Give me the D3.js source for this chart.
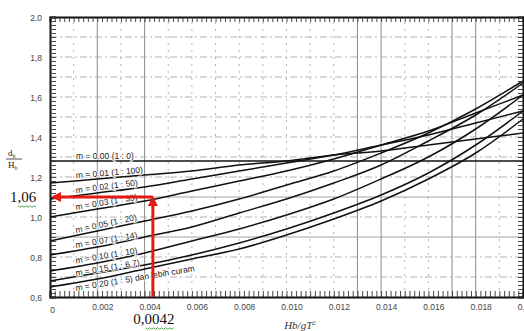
<!DOCTYPE html>
<html>
<head>
<meta charset="utf-8">
<script src="https://cdn.jsdelivr.net/npm/d3@7"></script>
<style>
  body { margin: 0; background: #fff; }
  svg { display: block; }
</style>
</head>
<body>
<div class="chart"></div>
<script>
// Hb/gT^2 sample points
var xs = [0, 0.002, 0.004, 0.006, 0.008, 0.010, 0.012, 0.014, 0.016, 0.018, 0.020];

// db/Hb, one list per beach slope
var m000 = [1.28, 1.28, 1.28, 1.28, 1.28, 1.28, 1.28, 1.28, 1.28, 1.28, 1.28];
var m001 = [1.17, 1.19, 1.21, 1.23, 1.26, 1.28, 1.31, 1.33, 1.36, 1.39, 1.42];
var m002 = [1.09, 1.12, 1.15, 1.19, 1.23, 1.27, 1.31, 1.36, 1.41, 1.47, 1.53];
var m003 = [1.00, 1.04, 1.08, 1.13, 1.18, 1.23, 1.29, 1.36, 1.43, 1.52, 1.61];
var m005 = [0.88, 0.93, 0.98, 1.03, 1.09, 1.16, 1.23, 1.32, 1.42, 1.54, 1.68];
var m007 = [0.81, 0.85, 0.90, 0.95, 1.02, 1.09, 1.17, 1.26, 1.38, 1.51, 1.67];
var m010 = [0.73, 0.77, 0.82, 0.88, 0.94, 1.01, 1.09, 1.19, 1.30, 1.44, 1.61];
var m015 = [0.68, 0.72, 0.76, 0.81, 0.87, 0.94, 1.02, 1.11, 1.22, 1.36, 1.53];
var m020 = [0.65, 0.69, 0.74, 0.79, 0.84, 0.91, 0.99, 1.08, 1.19, 1.32, 1.49];

var curveLabels = [
  "m = 0.00 (1 : 0)",
  "m = 0.01 (1 : 100)",
  "m = 0.02 (1 : 50)",
  "m = 0.03 (1 : 33)",
  "m = 0.05 (1 : 20)",
  "m = 0.07 (1 : 14)",
  "m = 0.10 (1 : 10)",
  "m = 0.15 (1 : 6.7)",
  "m = 0.20 (1 : 5) dan lebih curam"
];
var curveValues = [m000, m001, m002, m003, m005, m007, m010, m015, m020];

var xTickValues = [0, 0.002, 0.004, 0.006, 0.008, 0.010, 0.012, 0.014, 0.016, 0.018, 0.020];
var xTickLabels = ["0", "0.002", "0.004", "0.006", "0.008", "0.010", "0.012", "0.014", "0.016", "0.018", "0.020"];
var yTickValues = [0.6, 0.8, 1.0, 1.2, 1.4, 1.6, 1.8, 2.0];
var yTickLabels = ["0,6", "0,8", "1,0", "1,2", "1,4", "1,6", "1,8", "2.0"];

// red reading arrows
var readX = 0.00435, readY = 1.10;
var readXLabel = "0,0042", readYLabel = "1,06";

var width = 524, height = 331;
var margin = { top: 17, right: 1, bottom: 34, left: 50 };

var x = d3.scaleLinear().domain([0, 0.02]).range([margin.left, width - margin.right]);
var y = d3.scaleLinear().domain([0.6, 2.0]).range([height - margin.bottom, margin.top]);

var svg = d3.select(".chart").append("svg")
  .attr("width", width)
  .attr("height", height);

function isIn(list, d) {
  return list.some(function (s) { return Math.abs(s - d) < 1e-6; });
}

// grid
var solidX = [0.002, 0.004, 0.013, 0.014, 0.017, 0.018];
var solidY = [0.9, 1.1];
var grid = svg.append("g").attr("class", "grid");
grid.selectAll("line.vx")
  .data(d3.range(1, 20).map(function (i) { return i * 0.001; }))
  .enter().append("line")
  .attr("x1", function (d) { return x(d); })
  .attr("x2", function (d) { return x(d); })
  .attr("y1", y(0.6)).attr("y2", y(2.0))
  .attr("stroke", function (d) { return isIn(solidX, d) ? "#8a8a8a" : "#aaa"; })
  .attr("stroke-width", function (d) { return isIn(solidX, d) ? 1 : 0.9; })
  .attr("stroke-dasharray", function (d) { return isIn(solidX, d) ? null : "2,5"; });
grid.selectAll("line.hy")
  .data(d3.range(7, 20).map(function (i) { return i / 10; }))
  .enter().append("line")
  .attr("y1", function (d) { return y(d); })
  .attr("y2", function (d) { return y(d); })
  .attr("x1", x(0)).attr("x2", x(0.02))
  .attr("stroke", function (d) { return isIn(solidY, d) ? "#999" : "#aaa"; })
  .attr("stroke-width", 0.9)
  .attr("stroke-dasharray", function (d) { return isIn(solidY, d) ? null : "7,3,2,3"; });

// curves
var line = d3.line()
  .curve(d3.curveCatmullRom)
  .x(function (d) { return x(d[0]); })
  .y(function (d) { return y(d[1]); });

svg.append("g").attr("class", "curves")
  .selectAll("path")
  .data(curveValues)
  .enter().append("path")
  .attr("d", function (vals) { return line(xs.map(function (v, i) { return [v, vals[i]]; })); })
  .attr("fill", "none")
  .attr("stroke", "#111")
  .attr("stroke-width", 1.5);

// curve labels, tilted along each curve near the left edge
var labX = 0.0011;
var labShift = [-2.5, -2.5, -2.5, -2.5, -2.5, -2.5, -3, -0.5, 8.5];
svg.append("g").attr("class", "labels")
  .selectAll("text")
  .data(curveValues)
  .enter().append("text")
  .attr("transform", function (vals, i) {
    var y0 = vals[0] + (vals[1] - vals[0]) * (labX / 0.002);
    var y1 = vals[0] + (vals[1] - vals[0]) * ((labX + 0.001) / 0.002);
    var a = Math.atan2(y(y1) - y(y0), x(labX + 0.001) - x(labX)) * 180 / Math.PI;
    return "translate(" + x(labX) + "," + (y(y0) + labShift[i]) + ") rotate(" + a + ")";
  })
  .attr("font-family", "Liberation Sans, Arial, sans-serif")
  .attr("font-size", 8.5)
  .attr("fill", "#222")
  .attr("stroke", "#fff")
  .attr("stroke-width", 1.6)
  .attr("paint-order", "stroke")
  .text(function (d, i) { return curveLabels[i]; });

// frame with minor ticks
var frame = svg.append("g").attr("class", "frame");
frame.append("g")
  .attr("transform", "translate(0," + y(2.0) + ")")
  .call(d3.axisBottom(x).tickValues(d3.range(0, 101).map(function (i) { return i * 0.0002; })).tickSize(5).tickFormat(""));
frame.append("g")
  .attr("transform", "translate(0," + y(0.6) + ")")
  .call(d3.axisTop(x).tickValues(d3.range(0, 101).map(function (i) { return i * 0.0002; })).tickSize(6).tickFormat(""));
frame.append("g")
  .attr("transform", "translate(" + x(0) + ",0)")
  .call(d3.axisRight(y).tickValues(d3.range(0, 71).map(function (i) { return 0.6 + i * 0.02; })).tickSize(6).tickFormat(""));
frame.append("g")
  .attr("transform", "translate(" + x(0.02) + ",0)")
  .call(d3.axisLeft(y).tickValues(d3.range(0, 71).map(function (i) { return 0.6 + i * 0.02; })).tickSize(5).tickFormat(""));
frame.selectAll(".domain").attr("stroke", "#111").attr("stroke-width", 2);
frame.selectAll(".tick line").attr("stroke", "#333").attr("stroke-width", 0.9);

// tick labels
var xAxis = svg.append("g")
  .attr("transform", "translate(5," + (y(0.6) + 4) + ")")
  .call(d3.axisBottom(x).tickValues(xTickValues).tickSize(0)
    .tickFormat(function (d, i) { return xTickLabels[i]; }));
var yAxis = svg.append("g")
  .attr("transform", "translate(" + (x(0) - 5) + ",1)")
  .call(d3.axisLeft(y).tickValues(yTickValues).tickSize(0)
    .tickFormat(function (d, i) { return yTickLabels[i]; }));
[xAxis, yAxis].forEach(function (a) {
  a.select(".domain").remove();
  a.selectAll("text")
    .attr("font-family", "Liberation Sans, Arial, sans-serif")
    .attr("font-size", 8.5)
    .attr("fill", "#444");
});
xAxis.selectAll(".tick").filter(function (d) { return d === 0; }).select("text")
  .attr("dx", -3).attr("dy", "1.0em");

// axis titles
var yt = svg.append("g")
  .attr("font-family", "Liberation Serif, Times New Roman, serif")
  .attr("font-size", 9)
  .attr("fill", "#222");
var td = yt.append("text").attr("x", 8).attr("y", 156);
td.append("tspan").text("d");
td.append("tspan").attr("font-size", 6).attr("dy", 1.5).text("b");
yt.append("line").attr("x1", 6).attr("x2", 22).attr("y1", 159).attr("y2", 159)
  .attr("stroke", "#222").attr("stroke-width", 0.8);
var th = yt.append("text").attr("x", 8).attr("y", 168);
th.append("tspan").text("H");
th.append("tspan").attr("font-size", 6).attr("dy", 1.5).text("b");

var xt = svg.append("text")
  .attr("x", x(0.0099)).attr("y", 329)
  .attr("font-family", "Liberation Serif, Times New Roman, serif")
  .attr("font-style", "italic")
  .attr("font-size", 11)
  .attr("fill", "#333");
xt.append("tspan").text("Hb/gT");
xt.append("tspan").attr("font-size", 7).attr("dy", -4).text("2");

// red reading arrows
var defs = svg.append("defs");
defs.append("marker")
  .attr("id", "arr")
  .attr("viewBox", "0 0 10 10")
  .attr("refX", 8).attr("refY", 5)
  .attr("markerWidth", 3.4).attr("markerHeight", 3.4)
  .attr("markerUnits", "strokeWidth")
  .attr("orient", "auto")
  .append("path").attr("d", "M0,0L10,5L0,10z").attr("fill", "#e41b12");

var red = svg.append("g").attr("class", "reading");
red.append("line")
  .attr("x1", x(readX)).attr("x2", x(0) + 3)
  .attr("y1", y(readY)).attr("y2", y(readY))
  .attr("stroke", "#e41b12").attr("stroke-width", 3)
  .attr("marker-end", "url(#arr)");
red.append("line")
  .attr("x1", x(readX)).attr("x2", x(readX))
  .attr("y1", y(0.6)).attr("y2", y(readY) + 1)
  .attr("stroke", "#e41b12").attr("stroke-width", 3)
  .attr("marker-end", "url(#arr)");

function squiggle(t) {
  var b = t.node().getBBox();
  var x0 = b.x + b.width * 0.3, x1 = b.x + b.width, yy = b.y + b.height + 1;
  var pts = d3.range(x0, x1, 2).map(function (px, i) { return [px, yy + (i % 2 ? 1.2 : -0.2)]; });
  svg.append("path").attr("d", d3.line()(pts))
    .attr("fill", "none").attr("stroke", "#3c9a3c").attr("stroke-width", 0.9);
}
var ly = svg.append("text")
  .attr("x", 10).attr("y", y(readY) + 5)
  .attr("font-family", "Liberation Serif, Times New Roman, serif")
  .attr("font-size", 15).attr("fill", "#111")
  .text(readYLabel);
var lx = svg.append("text")
  .attr("x", x(readX) + 1).attr("y", 324)
  .attr("text-anchor", "middle")
  .attr("font-family", "Liberation Serif, Times New Roman, serif")
  .attr("font-size", 15).attr("fill", "#111")
  .text(readXLabel);
squiggle(ly);
squiggle(lx);
</script>
</body>
</html>
